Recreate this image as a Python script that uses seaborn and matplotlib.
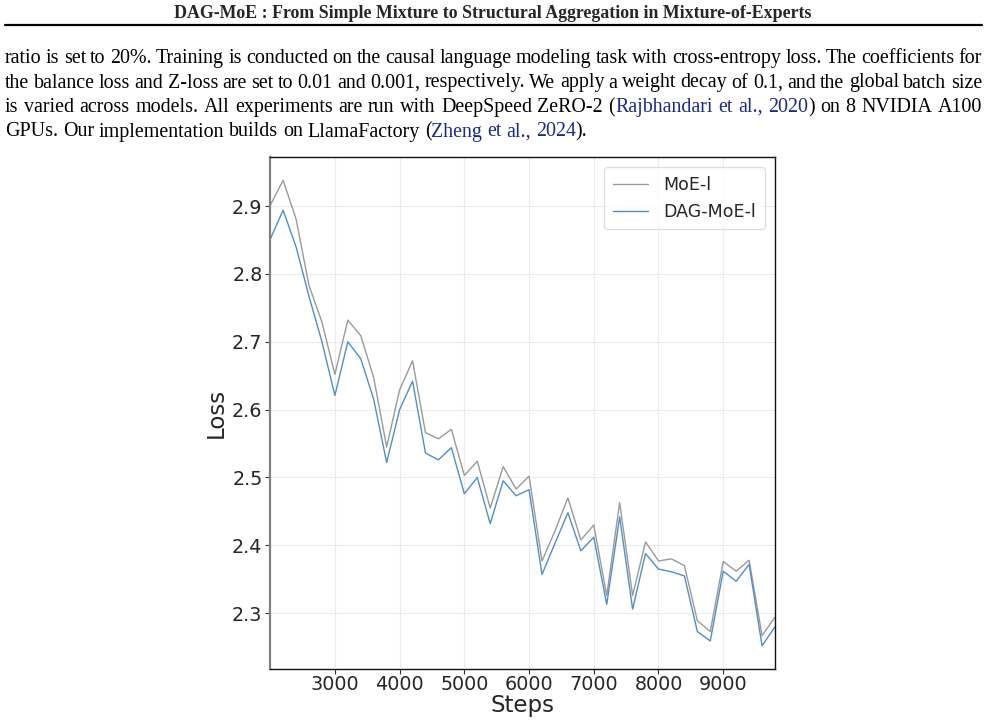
import numpy as np
import pandas as pd
import matplotlib
matplotlib.use("Agg")
import matplotlib.pyplot as plt
import seaborn as sns


# Loss curves (every 200 steps, 2000 -> 9800)
steps = list(range(2000, 9801, 200))

moe_loss = [2.901, 2.938, 2.881, 2.783, 2.729, 2.652, 2.732, 2.709, 2.647, 2.545,
            2.629, 2.672, 2.566, 2.557, 2.571, 2.503, 2.524, 2.455, 2.516, 2.483,
            2.502, 2.377, 2.421, 2.470, 2.408, 2.430, 2.326, 2.463, 2.326, 2.405,
            2.377, 2.380, 2.370, 2.289, 2.273, 2.376, 2.362, 2.378, 2.267, 2.294]

dag_loss = [2.851, 2.894, 2.840, 2.767, 2.700, 2.621, 2.700, 2.675, 2.615, 2.522,
            2.600, 2.642, 2.536, 2.526, 2.544, 2.476, 2.500, 2.432, 2.495, 2.473,
            2.482, 2.357, 2.403, 2.448, 2.392, 2.412, 2.313, 2.442, 2.306, 2.388,
            2.365, 2.361, 2.355, 2.273, 2.259, 2.362, 2.347, 2.372, 2.252, 2.280]

series_names = ["MoE-l", "DAG-MoE-l"]

header = "DAG-MoE : From Simple Mixture to Structural Aggregation in Mixture-of-Experts"

# paragraph lines, as (text, is_link) chunks
para_lines = [
    [("ratio is set to 20%. Training is conducted on the causal language modeling task with cross-entropy loss. The coefficients for", False)],
    [("the balance loss and Z-loss are set to 0.01 and 0.001, respectively. We apply a weight decay of 0.1, and the global batch size", False)],
    [("is varied across models. All experiments are run with DeepSpeed ZeRO-2 (", False),
     ("Rajbhandari et al., 2020", True),
     (") on 8 NVIDIA A100", False)],
    [("GPUs. Our implementation builds on LlamaFactory (", False),
     ("Zheng et al., 2024", True),
     (").", False)],
]


df = pd.DataFrame({
    "Steps": steps * 2,
    "Loss": moe_loss + dag_loss,
    "model": [series_names[0]] * len(steps) + [series_names[1]] * len(steps),
})

sns.set_style("whitegrid")
plt.rcParams["font.family"] = ["DejaVu Sans"]

fig = plt.figure(figsize=(9.86, 7.25), dpi=100)
ax = fig.add_axes([0.274, 0.0772, 0.512, 0.7062])

sns.lineplot(data=df, x="Steps", y="Loss", hue="model",
             palette=["#9a9a9a", "#4f8fca"], linewidth=1.0, ax=ax)

ax.set_xlim(steps[0], steps[-1])
ax.set_xticks([3000, 4000, 5000, 6000, 7000, 8000, 9000])
ax.set_yticks([2.3, 2.4, 2.5, 2.6, 2.7, 2.8, 2.9])
ax.tick_params(axis="both", labelsize=13.8, length=3.5, width=0.8,
               color="#333333", left=True, bottom=True, pad=2)
ax.tick_params(axis="x", pad=1)
ax.set_xlabel("Steps", fontsize=16.5, labelpad=0)
ax.set_ylabel("Loss", fontsize=16.5, labelpad=3)
ax.grid(True, color="#ebebeb", linewidth=0.8)

for side in ["top", "right", "bottom"]:
    ax.spines[side].set_color("#111111")
    ax.spines[side].set_linewidth(1.0)
ax.spines["left"].set_color("#808080")
ax.spines["left"].set_linewidth(1.6)

leg = ax.legend(loc="upper right", fontsize=12.5, frameon=True,
                borderaxespad=0.6, handletextpad=0.9, borderpad=0.5)
leg.get_frame().set_edgecolor("#d6d6d6")
leg.get_frame().set_linewidth(0.9)
for line in leg.get_lines():
    line.set_linewidth(1.0)


# page text above the chart
fig.text(0.5, 1 - 13 / 725, header, ha="center", va="center",
         fontsize=12.85, fontweight="bold", family="Liberation Serif")
fig.add_artist(plt.Line2D([5 / 986, 982 / 986], [1 - 25 / 725, 1 - 25 / 725],
                          color="black", linewidth=1.6))

renderer = fig.canvas.get_renderer()
x_left, x_right = 5, 982
baselines = [63, 87.5, 112, 136.5]
for li, (chunks, base) in enumerate(zip(para_lines, baselines)):
    # per character colour flags, then split on spaces
    full = "".join(c for c, _ in chunks)
    flags = []
    for c, link in chunks:
        flags += [link] * len(c)
    tokens = []
    i = 0
    while i < len(full):
        if full[i] == " ":
            i += 1
            continue
        j = i
        while j < len(full) and full[j] != " ":
            j += 1
        # split the word where the colour changes
        pieces = []
        k = i
        while k < j:
            m = k
            while m < j and flags[m] == flags[k]:
                m += 1
            pieces.append((full[k:m], flags[k]))
            k = m
        tokens.append(pieces)
        i = j

    arts, widths = [], []
    for tok in tokens:
        row = []
        tw = 0
        for w, link in tok:
            t = fig.text(0, 1 - base / 725, w, fontsize=14.4, family="Liberation Serif",
                         color="#1a2a8c" if link else "black", va="baseline", ha="left")
            bw = t.get_window_extent(renderer).width
            row.append((t, bw))
            tw += bw
        arts.append(row)
        widths.append(tw)
    if li < len(para_lines) - 1:
        gap = (x_right - x_left - sum(widths)) / (len(tokens) - 1)
    else:
        gap = 4.8
    x = x_left
    for row, tw in zip(arts, widths):
        px = x
        for t, bw in row:
            t.set_x(px / 986)
            px += bw
        x += tw + gap

fig.savefig("out.png", dpi=100)
